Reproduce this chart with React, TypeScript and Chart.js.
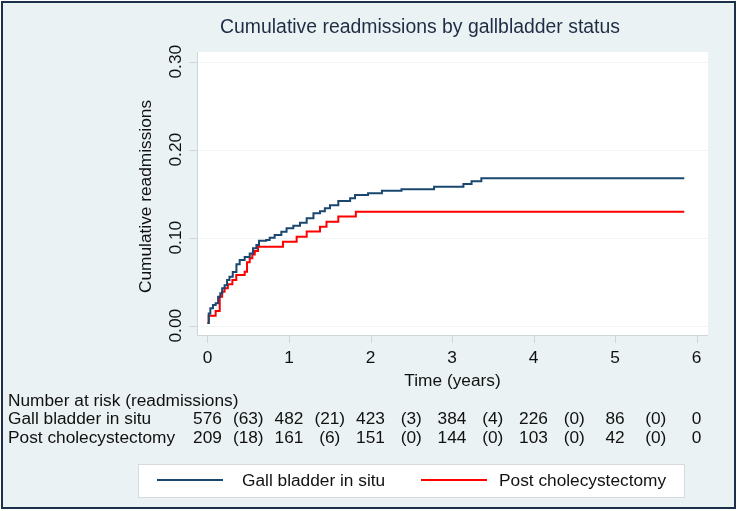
import React, { useEffect, useRef } from "react";
import { Chart, registerables } from "chart.js";

Chart.register(...registerables);

// ---- data ----
const titleText = "Cumulative readmissions by gallbladder status";
const xAxisTitle = "Time (years)";
const yAxisTitle = "Cumulative readmissions";
const xTicks = [0, 1, 2, 3, 4, 5, 6];
const yTicks = [0, 0.1, 0.2, 0.3];
const seriesNames = ["Gall bladder in situ", "Post cholecystectomy"];

// step points: [time, cumulative value after the step]
const gallBladderSteps: [number, number][] = [
  [0, 0.003], [0.015, 0.014], [0.035, 0.0198], [0.067, 0.0235], [0.1, 0.0255],
  [0.13, 0.033], [0.157, 0.0368], [0.18, 0.0425], [0.21, 0.046], [0.24, 0.052],
  [0.27, 0.0557], [0.31, 0.061], [0.355, 0.0698], [0.395, 0.0747], [0.456, 0.078],
  [0.518, 0.082], [0.558, 0.088], [0.6, 0.0917], [0.632, 0.0966], [0.72, 0.0974],
  [0.763, 0.1], [0.824, 0.103], [0.906, 0.1068], [0.97, 0.1106], [1.053, 0.1136],
  [1.135, 0.117], [1.217, 0.122], [1.3, 0.1277], [1.38, 0.13], [1.44, 0.1334],
  [1.503, 0.137], [1.605, 0.1417], [1.75, 0.1448], [1.81, 0.1485], [1.97, 0.1505],
  [2.14, 0.1534], [2.38, 0.155], [2.78, 0.158], [3.14, 0.161], [3.24, 0.164],
  [3.36, 0.1675], [5.85, 0.1675],
];

const cholecystectomySteps: [number, number][] = [
  [0, 0.003], [0.015, 0.0114], [0.1, 0.0167], [0.15, 0.033], [0.18, 0.0386],
  [0.21, 0.0425], [0.25, 0.047], [0.305, 0.052], [0.353, 0.0576], [0.456, 0.0614],
  [0.485, 0.072], [0.518, 0.0766], [0.55, 0.081], [0.58, 0.085], [0.62, 0.0898],
  [0.926, 0.0955], [1.094, 0.101], [1.217, 0.107], [1.38, 0.1125], [1.46, 0.118],
  [1.605, 0.124], [1.82, 0.1295], [5.85, 0.1295],
];

// number at risk (at integer years) and events (between years)
const riskTimes = [0, 1, 2, 3, 4, 5, 6];
const atRiskGall = ["576", "482", "423", "384", "226", "86", "0"];
const eventsGall = ["(63)", "(21)", "(3)", "(4)", "(0)", "(0)"];
const atRiskPost = ["209", "161", "151", "144", "103", "42", "0"];
const eventsPost = ["(18)", "(6)", "(0)", "(0)", "(0)", "(0)"];
const riskTitle = "Number at risk (readmissions)";

const colors = ["#1a476f", "#ff0000"];

const FONT = "'Liberation Sans', Arial, Helvetica, sans-serif";

const decorPlugin = {
  id: "decor",
  beforeDraw(chart: any) {
    const { ctx, chartArea, width, height } = chart;
    const yS = chart.scales.y;
    const xS = chart.scales.x;
    ctx.save();
    ctx.fillStyle = "#ffffff";
    ctx.fillRect(0, 0, width, height);
    ctx.fillStyle = "#eaf2f3";
    ctx.fillRect(2, 2, 733, 506);
    ctx.strokeStyle = "#1d3049";
    ctx.lineWidth = 2;
    ctx.strokeRect(2, 2, 733, 506);
    // plot region
    ctx.fillStyle = "#ffffff";
    ctx.fillRect(chartArea.left, chartArea.top, chartArea.right - chartArea.left, chartArea.bottom - chartArea.top);
    // grid
    ctx.strokeStyle = "#f1f4f5";
    ctx.lineWidth = 1;
    for (const v of yTicks) {
      const y = Math.round(yS.getPixelForValue(v)) + 0.5;
      ctx.beginPath();
      ctx.moveTo(chartArea.left, y);
      ctx.lineTo(chartArea.right, y);
      ctx.stroke();
    }
    // axes
    ctx.strokeStyle = "#cfd6d9";
    ctx.beginPath();
    ctx.moveTo(chartArea.left + 0.5, chartArea.top);
    ctx.lineTo(chartArea.left + 0.5, chartArea.bottom);
    ctx.moveTo(chartArea.left, chartArea.bottom + 0.5);
    ctx.lineTo(chartArea.right, chartArea.bottom + 0.5);
    for (const v of yTicks) {
      const y = Math.round(yS.getPixelForValue(v)) + 0.5;
      ctx.moveTo(chartArea.left - 8, y);
      ctx.lineTo(chartArea.left, y);
    }
    for (const v of xTicks) {
      const x = Math.round(xS.getPixelForValue(v)) + 0.5;
      ctx.moveTo(x, chartArea.bottom);
      ctx.lineTo(x, chartArea.bottom + 8);
    }
    ctx.stroke();
    ctx.restore();
  },
  afterDraw(chart: any) {
    const { ctx, chartArea } = chart;
    const yS = chart.scales.y;
    const xS = chart.scales.x;
    ctx.save();
    // title
    ctx.fillStyle = "#1e2d45";
    ctx.font = `19.4px ${FONT}`;
    ctx.textAlign = "center";
    ctx.textBaseline = "middle";
    ctx.fillText(titleText, 420, 28);

    ctx.fillStyle = "#111111";
    ctx.font = `17.3px ${FONT}`;
    // x tick labels
    for (const v of xTicks) {
      ctx.fillText(String(v), xS.getPixelForValue(v), 358);
    }
    ctx.fillText(xAxisTitle, (chartArea.left + chartArea.right) / 2, 381);

    // y tick labels (rotated)
    for (const v of yTicks) {
      ctx.save();
      ctx.translate(176, yS.getPixelForValue(v));
      ctx.rotate(-Math.PI / 2);
      ctx.fillText(v.toFixed(2), 0, 0);
      ctx.restore();
    }
    ctx.save();
    ctx.translate(146, (chartArea.top + chartArea.bottom) / 2 + 3);
    ctx.rotate(-Math.PI / 2);
    ctx.fillText(yAxisTitle, 0, 0);
    ctx.restore();

    // risk table
    ctx.textAlign = "left";
    ctx.fillText(riskTitle, 8, 401);
    ctx.fillText(seriesNames[0], 8, 419);
    ctx.fillText(seriesNames[1], 8, 438);
    ctx.textAlign = "center";
    const rows = [
      { y: 419, n: atRiskGall, e: eventsGall },
      { y: 438, n: atRiskPost, e: eventsPost },
    ];
    for (const r of rows) {
      riskTimes.forEach((t, i) => {
        ctx.fillText(r.n[i], xS.getPixelForValue(t), r.y);
        if (i < r.e.length) {
          ctx.fillText(r.e[i], xS.getPixelForValue(t + 0.5), r.y);
        }
      });
    }

    // legend
    ctx.fillStyle = "#ffffff";
    ctx.fillRect(138, 464, 546, 33);
    ctx.strokeStyle = "#d4dadd";
    ctx.lineWidth = 1;
    ctx.strokeRect(138.5, 464.5, 546, 33);
    const legendItems = [
      { x0: 157, x1: 223, tx: 242 },
      { x0: 421, x1: 487, tx: 499 },
    ];
    legendItems.forEach((it, i) => {
      ctx.strokeStyle = colors[i];
      ctx.lineWidth = 2;
      ctx.beginPath();
      ctx.moveTo(it.x0, 480);
      ctx.lineTo(it.x1, 480);
      ctx.stroke();
      ctx.fillStyle = "#111111";
      ctx.textAlign = "left";
      ctx.fillText(chart.data.datasets[i].label, it.tx, 481);
    });
    ctx.restore();
  },
};

export default function App() {
  const ref = useRef<HTMLCanvasElement | null>(null);
  useEffect(() => {
    if (!ref.current) return;
    const chart = new Chart(ref.current, {
      type: "line",
      data: {
        datasets: [
          {
            label: seriesNames[0],
            data: gallBladderSteps.map(([x, y]) => ({ x, y })),
            borderColor: colors[0],
            borderWidth: 2,
            stepped: "before",
            pointRadius: 0,
            fill: false,
          },
          {
            label: seriesNames[1],
            data: cholecystectomySteps.map(([x, y]) => ({ x, y })),
            borderColor: colors[1],
            borderWidth: 2,
            stepped: "before",
            pointRadius: 0,
            fill: false,
          },
        ],
      },
      options: {
        responsive: false,
        animation: false,
        layout: { padding: { left: 197, right: 31, top: 52, bottom: 176 } },
        scales: {
          x: { type: "linear", min: -0.1288, max: 6.141, display: false },
          y: { type: "linear", min: -0.01057, max: 0.311, display: false },
        },
        plugins: {
          legend: { display: false },
          tooltip: { enabled: false },
        },
      },
      plugins: [decorPlugin],
    });
    return () => chart.destroy();
  }, []);
  return (
    <div style={{ position: "absolute", left: 0, top: 0, width: 739, height: 511 }}>
      <canvas ref={ref} width={739} height={511} />
    </div>
  );
}
